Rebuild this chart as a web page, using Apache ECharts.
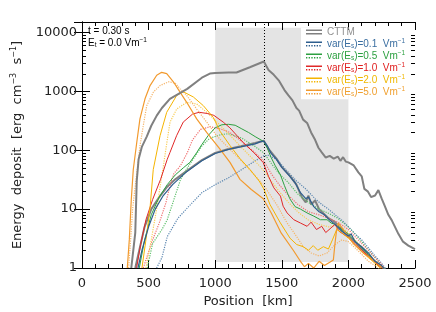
<!DOCTYPE html>
<html><head><meta charset="utf-8">
<script src="https://cdn.jsdelivr.net/npm/echarts@6/dist/echarts.min.js"></script>
<style>html,body{margin:0;padding:0;background:#fff}#c{width:436px;height:312px}</style>
</head><body><div id="c"></div><script>
// ---- data (position km, energy deposit) ----
const xTicks = [0, 500, 1000, 1500, 2000, 2500];
const yTicks = [1, 10, 100, 1000, 10000];
const yMinorTicks = [2,3,4,5,6,7,8,9,20,30,40,50,60,70,80,90,200,300,400,500,600,700,800,900,2000,3000,4000,5000,6000,7000,8000,9000];
const legendNames = ['CTTM', '0.1', '0.5', '1.0', '2.0', '5.0'];

const posCttmA = [370,385,400,411,425,450,486,520,561,600,660,790,900,960,1000,1100,1160,1260,1365,1400,1440,1480,1520,1550,1580,1610,1630,1660,1690,1720,1750,1775,1800,1830,1860,1890,1920,1940,1960,1980,2000,2040,2075,2100,2120,2145,2170,2200,2225,2250,2275,2300,2325,2375,2410,2450,2500];
const valCttmA = [1,2,4,30,70,115,170,260,386,520,745,1100,1700,1995,2050,2080,2080,2560,3200,2300,1900,1500,1050,850,700,520,470,330,290,200,150,110,92,75,80,72,78,66,76,64,62,55,42,36,22,20,16,17,21,15,11,8,6.5,3.8,2.8,2.4,2.1];

const posCttmB = [400,430,470,520,580,640,700,790,900,1000,1100,1200,1300,1365,1400,1460,1500,1560,1610,1650,1680,1700,1720,1750,1780,1800,1850,1900,1950,2000,2050,2100,2150,2200,2250,2290];
const valCttmB = [1,2,5,10,16,24,32,45,68,90,105,118,132,145,105,72,52,37,26,16,13,17,12,14,10,9,7,6,4.5,3.5,2.8,2.1,1.6,1.3,1.05,0.9];

const posB1 = [420,450,500,550,610,680,780,900,1000,1100,1200,1300,1340,1365,1390,1420,1460,1500,1560,1600,1640,1680,1700,1740,1780,1820,1860,1900,1950,2000,2020,2050,2100,2150,2200,2250,2280];
const valB1 = [1,2,5,10,17,26,42,66,88,103,115,128,140,142,120,88,70,51,36,28,19,15,16,11,9,8,6.5,5.5,4.2,3.5,3.8,2.8,2.3,1.8,1.3,1.1,0.9];
const posB2 = [560,600,640,720,800,900,1000,1100,1200,1300,1365,1400,1460,1530,1610,1680,1750,1800,1850,1900,1950,2000,2050,2100,2150,2200,2250,2290];
const valB2 = [1,1.5,3.4,7,11,19,26,34,47,66,80,82,70,47,30,22,15,12,10,8,6.5,5,3.8,3,2.2,1.6,1.2,0.9];

const posG1 = [430,470,520,580,640,700,760,810,860,900,950,1000,1050,1100,1150,1200,1250,1300,1365,1390,1420,1450,1490,1520,1560,1600,1640,1690,1740,1790,1840,1870,1900,1950,2000,2050,2100,2150,2200,2250,2280];
const valG1 = [1,3,8,16,26,38,50,62,90,125,180,240,270,275,265,230,200,170,140,110,75,55,38,25,15,11,10,8.6,7.6,6.6,6.6,5.8,5.5,4.5,3.8,2.9,2.2,1.7,1.3,1.05,0.9];
const posG2 = [490,530,600,640,690,740,800,850,900,960,1050,1100,1200,1300,1365,1420,1480,1550,1620,1700,1780,1850,1920,2000,2050,2100,2150,2200,2250,2290];
const valG2 = [1,2.6,4.5,6.6,14.5,32,54,80,118,160,185,190,160,115,90,60,40,28,18,13,10,8.5,7,5,3.8,2.8,2,1.5,1.1,0.9];

const posR1 = [410,440,480,530,590,640,660,710,760,830,880,940,990,1060,1110,1210,1290,1360,1400,1440,1490,1510,1540,1590,1640,1690,1720,1760,1800,1830,1870,1900,1930,2000,2050,2100,2150,2200,2250,2270];
const valR1 = [1,2.5,6.6,14.5,32,70,91,176,300,410,440,420,390,300,240,135,91,62,36,23,16.6,11.2,8.6,6.6,5.8,5.1,6,4.5,5.1,4,4.8,5.5,4.2,3.3,2.6,2.0,1.6,1.25,1.0,0.9];
const posR2 = [460,530,580,630,660,690,740,790,830,890,960,1040,1110,1200,1300,1365,1420,1480,1550,1620,1700,1780,1850,1920,2000,2050,2100,2150,2200,2250,2280];
const valR2 = [1,3,5.8,12.8,25,40,55,90,150,225,250,230,200,140,90,65,40,26,17,12,9,8,7,6,4.5,3.4,2.6,2,1.5,1.15,0.9];

const posY1 = [450,480,510,535,586,636,711,761,836,911,986,1036,1111,1186,1261,1330,1365,1411,1486,1562,1612,1661,1700,1736,1770,1812,1850,1880,1912,1950,2000,2050,2100,2150,2200,2250];
const valY1 = [1,3,10,47,176,440,850,980,800,570,360,210,120,72,47,30,22,12,6,3.2,2.5,2.3,2.0,2.4,2.0,2.3,2.1,3.0,4.5,4,3.2,2.5,1.9,1.5,1.2,0.95];
const posY2 = [480,520,560,611,640,661,711,786,861,936,1000,1100,1200,1300,1365,1420,1480,1550,1620,1700,1780,1850,1920,2000,2050,2100,2150,2200,2250];
const valY2 = [1,3,10,54,150,300,500,650,610,440,320,190,110,65,45,30,20,13,9,6.5,5.5,5,5.5,4,3,2.3,1.7,1.3,1.0];

const posO1 = [340,355,370,385,411,435,473,511,561,598,636,686,736,786,861,936,1036,1111,1186,1271,1361,1421,1496,1586,1640,1670,1700,1740,1780,1820,1860,1887,1900,1912,1925,1962,2037,2112,2187,2262];
const valO1 = [1,3,14.5,47,135,340,745,1250,1870,2100,1990,1450,970,650,340,200,104,62,32,21.5,15,8.6,3.9,2.0,1.3,1.05,1.2,1.0,1.3,1.1,1.25,1.37,2.7,4.5,5.8,4.5,2.6,1.8,1.37,1.0];
const posO2 = [350,365,380,400,420,435,460,486,536,586,650,700,736,786,861,936,1011,1086,1186,1286,1365,1461,1536,1612,1661,1720,1780,1840,1900,1950,2000,2050,2100,2150,2200,2250];
const valO2 = [1,3,10,25,60,118,260,570,970,1250,1450,1380,1100,850,500,300,176,118,70,40,25,12,6,3.4,2.3,1.8,1.6,1.8,2.5,3,2.8,2.2,1.7,1.3,1.1,0.9];

const bandX = [1000, 2000];
const bandY = [1.26, 12000];
const markerPos = 1365;

// ---- chart ----
const zip = (a, b) => a.map((v, i) => [v, b[i]]);
const colors = { CTTM: '#808080', '0.1': '#2e5e8e', '0.5': '#2ca040', '1.0': '#e02828', '2.0': '#f5b400', '5.0': '#f29a2e' };
const dotColors = { '0.1': '#5a86b0', '0.5': '#5dbf6a', '1.0': '#f07070', '2.0': '#f8cd55', '5.0': '#f5b56a' };
const textColors = { CTTM: '#909090', '0.1': '#3a6ea0', '0.5': '#2ca040', '1.0': '#e02020', '2.0': '#f0b800', '5.0': '#f0a030' };

function line(name, pos, val, color, type, width, z) {
  return { type: 'line', name, data: zip(pos, val), showSymbol: false, symbol: 'none',
    lineStyle: { color, type, width }, itemStyle: { color }, z, silent: true, animation: false };
}

const series = [
  line('CTTM', posCttmB, valCttmB, colors.CTTM, 'solid', 2, 2),
  line('0.5', posG2, valG2, dotColors['0.5'], 'dotted', 1.2, 3),
  line('0.1', posB2, valB2, dotColors['0.1'], 'dotted', 1.2, 3),
  line('1.0', posR2, valR2, dotColors['1.0'], 'dotted', 1.2, 3),
  line('2.0', posY2, valY2, dotColors['2.0'], 'dotted', 1.2, 3),
  line('5.0', posO2, valO2, dotColors['5.0'], 'dotted', 1.2, 3),
  line('0.5', posG1, valG1, colors['0.5'], 'solid', 1, 4),
  line('1.0', posR1, valR1, colors['1.0'], 'solid', 1, 4),
  line('2.0', posY1, valY1, colors['2.0'], 'solid', 1, 4),
  line('5.0', posO1, valO1, colors['5.0'], 'solid', 1.2, 4),
  line('0.1', posB1, valB1, colors['0.1'], 'solid', 1.2, 5),
  line('CTTM', posCttmA, valCttmA, colors.CTTM, 'solid', 2, 6),
];
// band + legend background + marker line
series[0].markArea = { silent: true, z: 0, data: [
  [{ xAxis: bandX[0], yAxis: bandY[0], itemStyle: { color: '#e4e4e4' } }, { xAxis: bandX[1], yAxis: bandY[1] }],
  [{ xAxis: 1644, yAxis: 730, itemStyle: { color: '#ffffff' } }, { xAxis: bandX[1], yAxis: bandY[1] }]
] };
series[0].markLine = { silent: true, symbol: 'none', label: { show: false },
  lineStyle: { color: '#000', type: [1, 2], width: 1 }, data: [{ xAxis: markerPos }] };
// minor log ticks (left & right)
series.push({ type: 'custom', silent: true, z: 10, animation: false, clip: false,
  data: yMinorTicks.map(v => [0, v]),
  renderItem(params, api) {
    const v = api.value(1);
    const l = api.coord([0, v]);
    const r = api.coord([2500, v]);
    const y = Math.round(l[1]) + 0.5;
    return { type: 'group', children: [
      { type: 'line', shape: { x1: l[0], y1: y, x2: l[0] + 4, y2: y }, style: { stroke: '#000', lineWidth: 1 } },
      { type: 'line', shape: { x1: r[0] - 4, y1: y, x2: r[0], y2: y }, style: { stroke: '#000', lineWidth: 1 } }
    ] };
  } });

const LF = 'Liberation Sans';
const rich = {};
legendNames.forEach((n, i) => {
  const k = 'c' + i, c = textColors[n];
  rich[k] = { color: c, fontSize: 10, lineHeight: 12, fontFamily: LF };
  rich[k + 's'] = { color: c, fontSize: 6.5, lineHeight: 12, verticalAlign: 'bottom', fontFamily: LF };
  rich[k + 'p'] = { color: c, fontSize: 6.5, lineHeight: 9, verticalAlign: 'top', fontFamily: LF };
});
const iconDouble = 'path://M0,0H24V2H0Z M0,5H24V7H0Z';
const iconSolidDot = 'path://M0,0H24V2H0Z M0,5H2V7H0Z M4,5H6V7H4Z M8,5H10V7H8Z M12,5H14V7H12Z M16,5H18V7H16Z M20,5H22V7H20Z';

const axisTxt = { color: '#222', fontSize: 13, fontFamily: 'DejaVu Sans' };
const option = {
  animation: false,
  grid: { left: 82, right: 21, top: 22, bottom: 44 },
  xAxis: [
    { type: 'value', min: 0, max: 2500, interval: 500, position: 'bottom',
      axisLine: { lineStyle: { color: '#000', width: 1 } },
      axisTick: { inside: true, length: 8, lineStyle: { color: '#000' } },
      minorTick: { show: true, splitNumber: 5, length: 4, lineStyle: { color: '#000' } },
      splitLine: { show: false }, minorSplitLine: { show: false },
      axisLabel: Object.assign({ margin: 9, formatter: v => String(v) }, axisTxt) },
    { type: 'value', min: 0, max: 2500, interval: 500, position: 'top',
      axisLine: { lineStyle: { color: '#000', width: 1 } },
      axisTick: { inside: true, length: 8, lineStyle: { color: '#000' } },
      minorTick: { show: true, splitNumber: 5, length: 4, lineStyle: { color: '#000' } },
      splitLine: { show: false }, axisLabel: { show: false } }
  ],
  yAxis: [
    { type: 'log', logBase: 10, min: 1, max: 15000, position: 'left',
      name: '{a|Energy  deposit  [erg  cm}{p|−3}{a|  s}{p|−1}{a|]}',
      nameLocation: 'middle', nameRotate: 90, nameGap: 56,
      nameTextStyle: { rich: {
        a: { fontSize: 13, lineHeight: 16, color: '#222', fontFamily: 'DejaVu Sans' },
        p: { fontSize: 8, lineHeight: 10, verticalAlign: 'top', color: '#222', fontFamily: 'DejaVu Sans' } } },
      axisLine: { show: true, lineStyle: { color: '#000', width: 1 } },
      axisTick: { show: true, inside: true, length: 8, lineStyle: { color: '#000' } },
      splitLine: { show: false },
      axisLabel: Object.assign({ margin: 5, formatter: v => {
        const r = Math.round(v); return yTicks.includes(r) ? String(r) : ''; } }, axisTxt) },
    { type: 'log', logBase: 10, min: 1, max: 15000, position: 'right',
      axisLine: { show: true, lineStyle: { color: '#000', width: 1 } },
      axisTick: { show: true, inside: true, length: 8, lineStyle: { color: '#000' } },
      splitLine: { show: false }, axisLabel: { show: false } }
  ],
  legend: {
    orient: 'vertical', left: 306, top: 26, padding: 0, itemGap: 0,
    itemWidth: 16, itemHeight: 5, symbolKeepAspect: false, selectedMode: false,
    data: legendNames.map(n => ({ name: n, icon: n === 'CTTM' ? iconDouble : iconSolidDot,
      itemStyle: { color: colors[n] } })),
    textStyle: { fontSize: 10, lineHeight: 12, rich },
    formatter: name => {
      const k = 'c' + legendNames.indexOf(name);
      return name === 'CTTM' ? `{${k}|CTTM}` : `{${k}|var(E}{${k}s|s}{${k}|)=${name}  Vm}{${k}p|−1}`;
    }
  },
  graphic: [
    { type: 'text', left: 88, top: 26, z: 20, style: { text: 't = 0.30 s', fill: '#000', font: '10px "Liberation Sans"' } },
    { type: 'text', left: 88, top: 37, z: 20, style: { text: '{a|E}{s|t}{a| = 0.0 Vm}{p|−1}',
      rich: { a: { fontSize: 10, lineHeight: 12, fill: '#000', fontFamily: LF },
              s: { fontSize: 6.5, lineHeight: 12, verticalAlign: 'bottom', fill: '#000', fontFamily: LF },
              p: { fontSize: 6.5, lineHeight: 9, verticalAlign: 'top', fill: '#000', fontFamily: LF } } } },
    { type: 'text', x: 248, y: 302, z: 20, style: { text: 'Position  [km]', fill: '#222', font: '13px "DejaVu Sans"', align: 'center', verticalAlign: 'middle' } }
  ],
  series
};
const chart = echarts.init(document.getElementById('c'), null, { renderer: 'canvas' });
chart.setOption(option);
</script></body></html>
